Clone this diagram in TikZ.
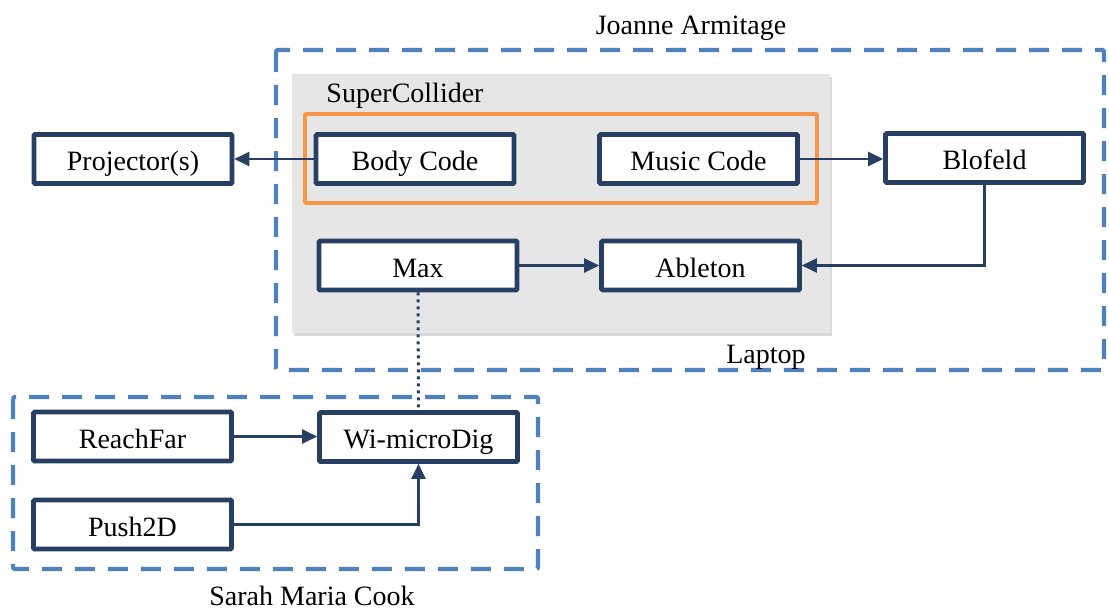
\documentclass[tikz,border=0pt]{standalone}
\usepackage{fontspec}
\setmainfont{Liberation Serif}
\usetikzlibrary{arrows.meta,shadows}
\definecolor{navy}{HTML}{263F63}
\definecolor{dashblue}{HTML}{4F81BD}
\definecolor{orangeC}{HTML}{F79646}
\definecolor{greyC}{HTML}{E6E6E6}
\tikzset{
  box/.style={draw=navy, line width=4.6pt, fill=white, minimum width=198pt, minimum height=49pt, inner sep=0pt, rounded corners=1pt, text height=23pt, text depth=0pt, font=\fontsize{28}{34}\selectfont},
  lbl/.style={font=\fontsize{28}{34}\selectfont, inner sep=0pt, text height=19pt, text depth=6pt},
  conn/.style={draw=navy, line width=2.2pt, -{Triangle[length=15pt,width=14pt]}},
  group/.style={draw=dashblue, line width=4.3pt, dash pattern=on 20pt off 13pt, rounded corners=2pt},
}
\begin{document}
\begin{tikzpicture}[x=1pt,y=-1pt]
\useasboundingbox (0,0) rectangle (1109,610);
% groups
\draw[group] (276,50) rectangle (1104,370);
\draw[group] (13,397) rectangle (538,569);
\fill[greyC, drop shadow={shadow xshift=2pt,shadow yshift=-3pt,opacity=0.3,fill=black!50}] (292,74) rectangle (830,333);
\draw[orangeC, line width=3.8pt, rounded corners=1pt] (305,114) rectangle (817,203);
% labels
\node[lbl] (lja) at (691,28) {Joanne Armitage};
\node[lbl] (lsc) at (405,96) {SuperCollider};
\node[lbl] (llap) at (766,357) {Laptop};
\node[lbl] (lsmc) at (312,599) {Sarah Maria Cook};
% nodes
\node[box] (proj) at (133,159) {Projector(s)};
\node[box] (body) at (415,159) {Body Code};
\node[box] (music) at (698.5,159) {Music Code};
\node[box] (blof) at (984.5,158) {Blofeld};
\node[box] (max) at (418,265.5) {Max};
\node[box] (able) at (700.5,265.5) {Ableton};
\node[box] (reach) at (132.5,436.5) {ReachFar};
\node[box] (wi) at (418.5,437) {Wi-microDig};
\node[box] (push) at (132.5,524.5) {Push2D};
% connectors
\draw[conn] (body.west) -- (proj.east);
\draw[conn] (music.east) -- (music.east -| blof.west);
\draw[conn] (max.east) -- (able.west);
\draw[conn] (blof.south) |- (able.east);
\draw[conn] (reach.east) -- (reach.east -| wi.west);
\draw[conn] (push.east) -| (wi.south);
\draw[navy, line width=3pt, dash pattern=on 3pt off 4pt] (max.south) -- (wi.north);
\end{tikzpicture}
\end{document}
